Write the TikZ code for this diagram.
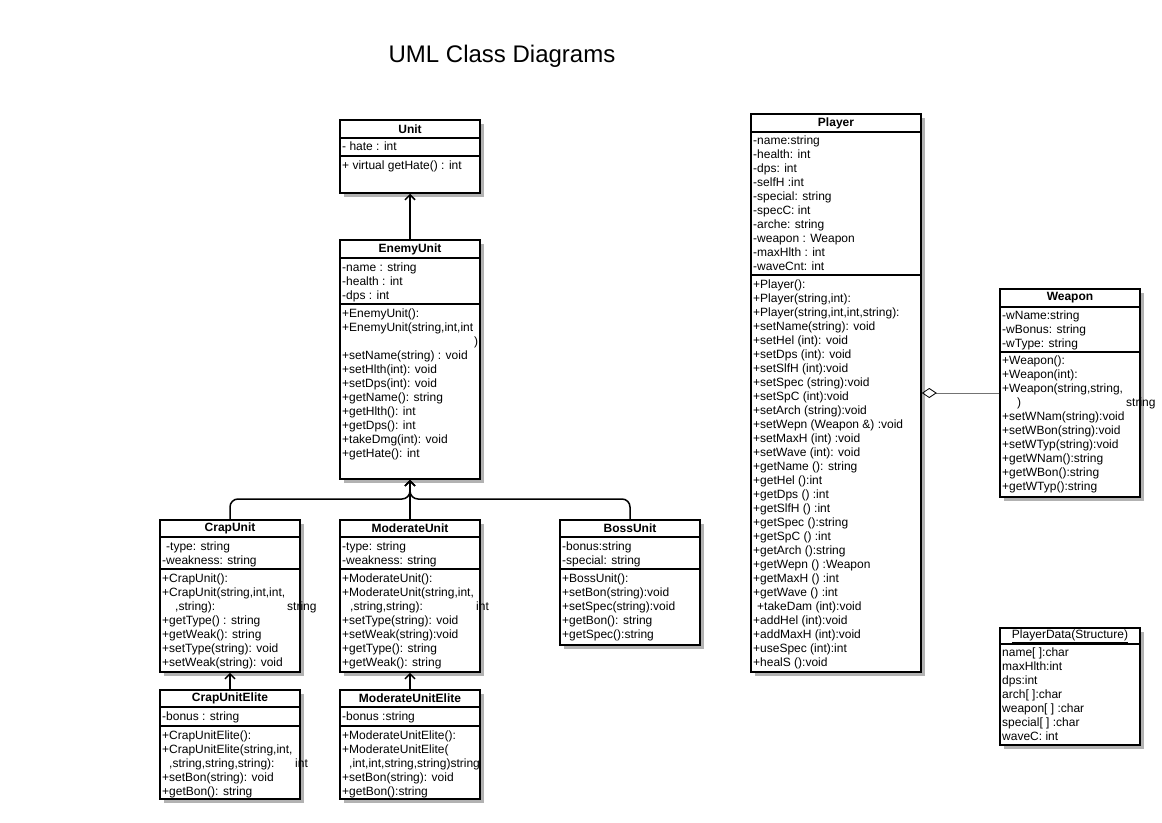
\documentclass[tikz,border=0pt]{standalone}
\usepackage{fontspec}
\setmainfont{Liberation Sans}
\usetikzlibrary{arrows.meta,fit}

\tikzset{
  umlbox/.style={draw, fill=white, line width=1.5pt, inner sep=0pt},
  umlshadow/.style={fill=black!30},
  umlline/.style={line width=1.5pt},
  umlhead/.style={inner sep=0pt, font=\fontsize{12}{14}\selectfont\bfseries},
  umltext/.style={anchor=north west, inner sep=0pt, yshift=-1pt, align=left, font=\fontsize{12}{14}\selectfont},
  subclass/.style={line width=1.5pt, -{Straight Barb[length=5pt, width=10pt]}},
  aggregate/.style={draw=black!55, line width=0.8pt, -{Diamond[open, length=15pt, width=10pt, color=black]}},
}

% name, left, top, right, head line, attribute line, bottom, title
\newcommand{\umlclass}[8]{%
  \fill[umlshadow] (#2+4,#3+4) rectangle (#4+4,#7+4);
  \node[umlbox, fit={(#2,#3) (#4,#7)}] (#1) {};
  \node[umlhead] (#1-name) at ({(#2+#4)/2},{(#3+#5)/2}) {#8};
  \draw[umlline] (#2,#5) -- (#4,#5);
  \draw[umlline] (#2,#6) -- (#4,#6);
}

\begin{document}
\begin{tikzpicture}[x=1pt,y=-1pt]
\fill[white] (0,0) rectangle (1162,822);
\useasboundingbox (0,0) rectangle (1162,822);

\node[font=\fontsize{24}{28}\selectfont] (title) at (502,56) {UML Class Diagrams};

% enemy side
\umlclass{unit}{340}{120}{480}{138}{156}{193}{Unit}
\node[umltext] (unit-attr) at (342,141) {- hate : int};
\node[umltext] (unit-ops) at (342,160) {+ virtual getHate() : int};

\umlclass{enemy}{340}{240}{480}{258}{304}{479}{EnemyUnit}
\node[umltext] (enemy-attr) at (342,262) {-name : string\\-health : int\\-dps : int};
\node[umltext] (enemy-ops) at (342,308) {+EnemyUnit():\\+EnemyUnit(string,int,int\\\makebox[136pt][r]{)}\\+setName(string) : void\\+setHlth(int): void\\+setDps(int): void\\+getName(): string\\+getHlth(): int\\+getDps(): int\\+takeDmg(int): void\\+getHate(): int};

\umlclass{crap}{160}{520}{300}{537}{569}{672}{CrapUnit}
\node[umltext] (crap-attr) at (162,541) {\hspace*{4pt}-type: string\\-weakness: string};
\node[umltext] (crap-ops) at (162,573) {+CrapUnit():\\+CrapUnit(string,int,int,\\\makebox[125pt][l]{\hspace*{13pt},string):}string\\+getType() : string\\+getWeak(): string\\+setType(string): void\\+setWeak(string): void};

\umlclass{moderate}{340}{520}{480}{537}{569}{672}{ModerateUnit}
\node[umltext] (moderate-attr) at (342,541) {-type: string\\-weakness: string};
\node[umltext] (moderate-ops) at (342,573) {+ModerateUnit():\\+ModerateUnit(string,int,\\\makebox[134pt][l]{\hspace*{8pt},string,string):}int\\+setType(string): void\\+setWeak(string):void\\+getType(): string\\+getWeak(): string};

\umlclass{boss}{560}{520}{700}{537}{569}{645}{BossUnit}
\node[umltext] (boss-attr) at (562,541) {-bonus:string\\-special: string};
\node[umltext] (boss-ops) at (562,573) {+BossUnit():\\+setBon(string):void\\+setSpec(string):void\\+getBon(): string\\+getSpec():string};

\umlclass{crapelite}{160}{690}{300}{707}{726}{799}{CrapUnitElite}
\node[umltext] (crapelite-attr) at (162,711) {-bonus : string};
\node[umltext] (crapelite-ops) at (162,730) {+CrapUnitElite():\\+CrapUnitElite(string,int,\\\makebox[133pt][l]{\hspace*{7pt},string,string,string):}int\\+setBon(string): void\\+getBon(): string};

\umlclass{moderateelite}{340}{690}{480}{707}{726}{799}{ModerateUnitElite}
\node[umltext] (moderateelite-attr) at (342,711) {-bonus :string};
\node[umltext] (moderateelite-ops) at (342,730) {+ModerateUnitElite():\\+ModerateUnitElite(\\\hspace*{7pt},int,int,string,string)string\\+setBon(string): void\\+getBon():string};

% player side
\umlclass{player}{751}{114}{921}{132}{275}{672}{Player}
\node[umltext] (player-attr) at (753,135) {-name:string\\-health: int\\-dps: int\\-selfH :int\\-special: string\\-specC: int\\-arche: string\\-weapon : Weapon\\-maxHlth : int\\-waveCnt: int};
\node[umltext] (player-ops) at (753,279) {+Player():\\+Player(string,int):\\+Player(string,int,int,string):\\+setName(string): void\\+setHel (int): void\\+setDps (int): void\\+setSlfH (int):void\\+setSpec (string):void\\+setSpC (int):void\\+setArch (string):void\\+setWepn (Weapon \&) :void\\+setMaxH (int) :void\\+setWave (int): void\\+getName (): string\\+getHel ():int\\+getDps () :int\\+getSlfH () :int\\+getSpec ():string\\+getSpC () :int\\+getArch ():string\\+getWepn () :Weapon\\+getMaxH () :int\\+getWave () :int\\\hspace*{4pt}+takeDam (int):void\\+addHel (int):void\\+addMaxH (int):void\\+useSpec (int):int\\+healS ():void};

\umlclass{weapon}{1000}{289}{1140}{307}{352}{497}{Weapon}
\node[umltext] (weapon-attr) at (1002,310) {-wName:string\\-wBonus: string\\-wType: string};
\node[umltext] (weapon-ops) at (1002,355) {+Weapon():\\+Weapon(int):\\+Weapon(string,string,\\\makebox[124pt][l]{\hspace*{15pt})}string\\+setWNam(string):void\\+setWBon(string):void\\+setWTyp(string):void\\+getWNam():string\\+getWBon():string\\+getWTyp():string};

\umlclass{playerdata}{1000}{628}{1140}{644}{644}{745}{\mdseries\underline{PlayerData(Structure)}}
\node[umltext] (playerdata-attr) at (1002,647) {name[ ]:char\\maxHlth:int\\dps:int\\arch[ ]:char\\weapon[ ] :char\\special[ ] :char\\waveC: int};

% connectors
\coordinate (bus) at (410,499);
\draw[subclass] (enemy) -- (unit);
\draw[subclass, rounded corners=8pt] (crap.north) |- (bus) -- (enemy.south);
\draw[subclass] (moderate.north) -- (enemy.south);
\draw[subclass, rounded corners=8pt] (boss.north) |- (bus) -- (enemy.south);
\draw[subclass] (crapelite) -- (crap);
\draw[subclass] (moderateelite) -- (moderate);
\draw[aggregate] (weapon.west) -- (player.east);

\end{tikzpicture}
\end{document}
